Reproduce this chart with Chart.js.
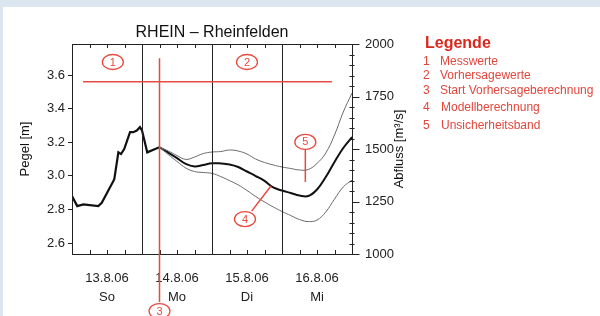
<!DOCTYPE html>
<html lang="de">
<head>
<meta charset="UTF-8">
<title>RHEIN - Rheinfelden</title>
<script src="https://cdn.jsdelivr.net/npm/chart.js"></script>
<style>
  html, body { margin: 0; padding: 0; }
  body {
    width: 600px; height: 316px; position: relative; overflow: hidden;
    background: #dce6f1;
    font-family: "Liberation Sans", Arial, sans-serif;
  }
  .sheet { position: absolute; left: 3px; top: 7px; width: 597px; height: 309px; background: #fff; }
  .sheet canvas { position: absolute; left: 0; top: 0; }
  .lg { position: absolute; color: #e2463c; font-size: 12px; line-height: 14px; white-space: nowrap; }
  .lg-head { position: absolute; left: 425px; top: 33px; color: #d9281e; font-size: 16px; font-weight: bold; line-height: 19px; }
</style>
</head>
<body>
<div class="sheet"><canvas id="chart" width="597" height="309"></canvas></div>

<div class="lg-head">Legende</div>
<div class="lg" style="left:423px;top:54px">1</div><div class="lg" style="left:440px;top:54px">Messwerte</div>
<div class="lg" style="left:423px;top:68px">2</div><div class="lg" style="left:440px;top:68px">Vorhersagewerte</div>
<div class="lg" style="left:423px;top:83px">3</div><div class="lg" style="left:440px;top:83px">Start Vorhersageberechnung</div>
<div class="lg" style="left:423px;top:100px">4</div><div class="lg" style="left:441px;top:100px">Modellberechnung</div>
<div class="lg" style="left:423px;top:118px">5</div><div class="lg" style="left:441px;top:118px">Unsicherheitsband</div>

<script>
// hours since 13.8.06 00:00
const measHours = [0, 1.8, 3.9, 9, 10.2, 13.6, 14.5, 15.9, 16.8, 17.9, 19.9, 21, 22.2, 23.3, 24, 25.8, 28.5, 30];
const measLevel = [2.88, 2.82, 2.83, 2.82, 2.84, 2.95, 2.98, 3.14, 3.13, 3.16, 3.26, 3.26, 3.27, 3.29, 3.27, 3.14, 3.16, 3.17];

const fcHours = [30, 33, 36, 39, 42, 45, 48, 51, 54, 57, 60, 63, 66, 69, 72, 75, 78, 81, 84, 87, 90, 93, 96];
const fcModel = [3.170, 3.139, 3.106, 3.071, 3.056, 3.065, 3.075, 3.074, 3.068, 3.053, 3.026, 2.999, 2.970, 2.931,
                 2.913, 2.898, 2.883, 2.880, 2.919, 2.993, 3.083, 3.166, 3.231];
const fcUpper = [3.170, 3.148, 3.121, 3.098, 3.112, 3.133, 3.142, 3.145, 3.154, 3.148, 3.130, 3.100, 3.080, 3.065,
                 3.053, 3.044, 3.035, 3.038, 3.074, 3.136, 3.243, 3.380, 3.493];
const fcLower = [3.170, 3.127, 3.086, 3.047, 3.026, 3.020, 3.015, 2.996, 2.972, 2.946, 2.913, 2.877, 2.845, 2.815,
                 2.788, 2.764, 2.740, 2.728, 2.737, 2.785, 2.862, 2.934, 2.975];

const dayCentres = [12, 36, 60, 84];
const dayLabels = [['13.8.06', 'So'], ['14.8.06', 'Mo'], ['15.8.06', 'Di'], ['16.8.06', 'Mi']];
const pegelTicks = [2.6, 2.8, 3.0, 3.2, 3.4, 3.6];
const abflussTicks = [1000, 1250, 1500, 1750, 2000];

const RED = '#e84a3f';
const INK = '#222';

// numbered notes, placed in data units (hours / Pegel m)
const notes = [
  { n: '1', h: 14, v: 3.678 },
  { n: '2', h: 60, v: 3.678 },
  { n: '3', h: 30, v: 2.195 },
  { n: '4', h: 59.3, v: 2.743 },
  { n: '5', h: 80, v: 3.202 }
];
const noteLines = [
  [3.8, 3.56, 89.1, 3.56],   // level of forecast
  [30, 3.70, 30, 2.25],      // start of forecast
  [80, 3.155, 80, 2.964],    // to band
  [61.6, 2.79, 68.2, 2.94]   // to model line
];

function pts(xs, ys) { return xs.map((x, i) => ({ x: x, y: ys[i] })); }

const decor = {
  id: 'decor',
  afterDatasetsDraw(chart) {
    const { ctx, chartArea: a, scales } = chart;
    const x = scales.x, y = scales.y, y1 = scales.y1;
    ctx.save();
    ctx.strokeStyle = INK;
    ctx.lineWidth = 1;

    // frame
    ctx.strokeRect(Math.round(a.left) + 0.5, Math.round(a.top) + 0.5,
                   Math.round(a.right - a.left), Math.round(a.bottom - a.top));

    // day separators and 6 h ticks
    ctx.beginPath();
    for (let h = 6; h < 96; h += 6) {
      const px = Math.round(x.getPixelForValue(h)) + 0.5;
      if (h % 24 === 0) {
        ctx.moveTo(px, a.top); ctx.lineTo(px, a.bottom);
      } else {
        ctx.moveTo(px, a.top); ctx.lineTo(px, a.top + 4);
        ctx.moveTo(px, a.bottom); ctx.lineTo(px, a.bottom - 4);
      }
    }
    // discharge axis ticks
    for (let q = 1000; q <= 2000; q += 50) {
      const py = Math.round(y1.getPixelForValue(q)) + 0.5;
      const r = Math.round(a.right) + 0.5;
      if (q % 250 === 0) { ctx.moveTo(r, py); ctx.lineTo(r + 7, py); }
      else { ctx.moveTo(r - 3, py); ctx.lineTo(r + 2, py); }
    }
    ctx.stroke();

    // titles
    ctx.fillStyle = '#111';
    ctx.font = '16px "Liberation Sans", Arial, sans-serif';
    ctx.textAlign = 'center';
    ctx.textBaseline = 'alphabetic';
    ctx.fillText('RHEIN \u2013 Rheinfelden', (a.left + a.right) / 2, 30);
    ctx.save();
    ctx.font = '13px "Liberation Sans", Arial, sans-serif';
    ctx.translate(396, (a.top + a.bottom) / 2);
    ctx.rotate(-Math.PI / 2);
    ctx.textBaseline = 'middle';
    ctx.fillText('Abfluss [m\u00b3/s]', 0, 0);
    ctx.restore();

    // red annotations
    ctx.strokeStyle = RED;
    ctx.lineWidth = 1.5;
    ctx.beginPath();
    noteLines.forEach(l => {
      ctx.moveTo(x.getPixelForValue(l[0]), y.getPixelForValue(l[1]));
      ctx.lineTo(x.getPixelForValue(l[2]), y.getPixelForValue(l[3]));
    });
    ctx.stroke();
    ctx.lineWidth = 1.3;
    ctx.font = '11px "Liberation Sans", Arial, sans-serif';
    ctx.textAlign = 'center';
    ctx.textBaseline = 'middle';
    notes.forEach(m => {
      const cx = x.getPixelForValue(m.h), cy = y.getPixelForValue(m.v);
      ctx.fillStyle = '#fff';
      ctx.beginPath();
      ctx.ellipse(cx, cy, 10.5, 7.5, 0, 0, Math.PI * 2);
      ctx.fill();
      ctx.stroke();
      ctx.fillStyle = RED;
      ctx.fillText(m.n, cx, cy + 0.5);
    });
    ctx.restore();
  }
};

new Chart(document.getElementById('chart'), {
  type: 'line',
  data: {
    datasets: [
      { label: 'Messwerte', data: pts(measHours, measLevel), borderColor: '#111', borderWidth: 2.2, tension: 0 },
      { label: 'Oberes Band', data: pts(fcHours, fcUpper), borderColor: '#6a6a6a', borderWidth: 1, tension: 0.4 },
      { label: 'Unteres Band', data: pts(fcHours, fcLower), borderColor: '#6a6a6a', borderWidth: 1, tension: 0.4 },
      { label: 'Modellberechnung', data: pts(fcHours, fcModel), borderColor: '#111', borderWidth: 2, tension: 0.4 }
    ]
  },
  options: {
    responsive: false,
    animation: false,
    devicePixelRatio: 1,
    layout: { padding: { top: 37, left: 0, right: 0, bottom: 0 } },
    elements: { point: { radius: 0 } },
    plugins: { legend: { display: false }, tooltip: { enabled: false }, title: { display: false } },
    scales: {
      x: {
        type: 'linear', position: 'bottom', min: 0, max: 96,
        grid: { display: false, drawTicks: false },
        border: { display: false },
        afterBuildTicks: s => { s.ticks = dayCentres.map(v => ({ value: v })); },
        afterFit: s => { s.height = 62; },
        ticks: {
          autoSkip: false, maxRotation: 0, padding: 15, color: '#222',
          font: { size: 13, family: '"Liberation Sans", Arial, sans-serif', lineHeight: 1.45 },
          callback: v => dayLabels[dayCentres.indexOf(v)]
        }
      },
      y: {
        type: 'linear', position: 'left', min: 2.535, max: 3.785,
        grid: { drawOnChartArea: false, tickLength: 4, color: INK },
        border: { display: false },
        afterBuildTicks: s => { s.ticks = pegelTicks.map(v => ({ value: v })); },
        afterFit: s => { s.width = 69; },
        title: { display: true, text: 'Pegel [m]', color: '#111', padding: { top: 15, bottom: 0 },
                 font: { size: 13, family: '"Liberation Sans", Arial, sans-serif' } },
        ticks: { padding: 3, color: '#222', font: { size: 13, family: '"Liberation Sans", Arial, sans-serif' },
                 callback: v => v.toFixed(1) }
      },
      y1: {
        type: 'linear', position: 'right', min: 1000, max: 2000,
        grid: { display: false, drawTicks: false },
        border: { display: false },
        afterBuildTicks: s => { s.ticks = abflussTicks.map(v => ({ value: v })); },
        afterFit: s => { s.width = 248; },
        ticks: { padding: 13, color: '#222', font: { size: 13, family: '"Liberation Sans", Arial, sans-serif' },
                 callback: v => String(v) }
      }
    }
  },
  plugins: [decor]
});
</script>
</body>
</html>
